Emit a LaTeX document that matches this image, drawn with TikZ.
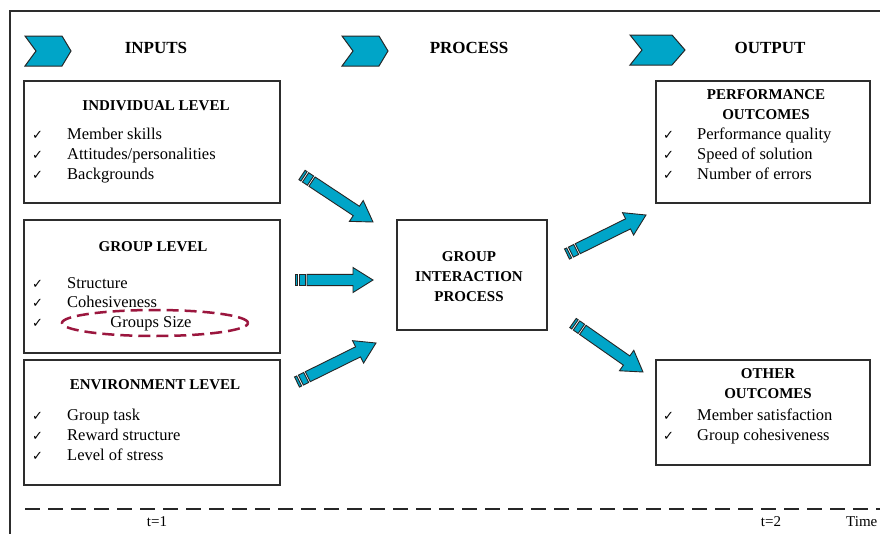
\documentclass[tikz,border=0pt]{standalone}
\usepackage{fontspec}
\setmainfont{Liberation Serif}
\newfontfamily\symf{DejaVu Sans}
\usetikzlibrary{calc,shapes.geometric}
\definecolor{arrowcyan}{RGB}{0,165,200}
\definecolor{ellred}{RGB}{155,22,62}
\definecolor{framegray}{RGB}{45,45,45}
\newcommand\blockarrow[2]{%
  \pgfpointdiff{\pgfpointanchor{#1}{center}}{\pgfpointanchor{#2}{center}}%
  \pgfgetlastxy\bdx\bdy
  \pgfmathsetmacro\bang{atan2(\bdy,\bdx)}%
  \pgfmathsetmacro\blen{veclen(\bdx,\bdy)}%
  \begin{scope}[shift={(#1)},rotate=\bang,x=1pt,y=1pt]
    \filldraw[arrowshape] (0,-5.6) rectangle (2.4,5.6);
    \filldraw[arrowshape] (4.3,-5.6) rectangle (10.2,5.6);
    \filldraw[arrowshape] (12,-5.6) -- ({\blen-20},-5.6) -- ({\blen-20},-12.5)
      -- (\blen,0) -- ({\blen-20},12.5) -- ({\blen-20},5.6) -- (12,5.6) -- cycle;
  \end{scope}}
\begin{document}
\begin{tikzpicture}[x=1pt,y=-1pt,
  arrowshape/.style={fill=arrowcyan,draw=black!85,line width=0.9pt,line join=miter},
  chev/.style={fill=arrowcyan,draw=black!85,line width=1pt},
  box/.style={draw=framegray,line width=1.3pt,inner sep=0pt,rectangle},
  ttl/.style={font=\fontsize{15}{20}\selectfont\bfseries,anchor=base,inner sep=0pt},
  itm/.style={font=\fontsize{16.5}{20}\selectfont,anchor=base west,inner sep=0pt},
  chk/.style={font=\symf\fontsize{13}{14}\selectfont,anchor=base west,inner sep=0pt},
  hdr/.style={font=\fontsize{17}{20}\selectfont\bfseries,anchor=base,inner sep=0pt},
  tim/.style={font=\fontsize{15}{18}\selectfont,anchor=base,inner sep=0pt},
]
\useasboundingbox (0,0) rectangle (880,533);
\clip (0,0) rectangle (880,533);
\fill[white] (0,0) rectangle (880,533);
% outer frame
\draw[framegray,line width=1.3pt] (10,540) -- (10,11) -- (890,11);

% chevrons and headers
\draw[chev] (25,36) -- (62,36) -- (71,51) -- (62,66) -- (25,66) -- (36,51) -- cycle;
\draw[chev] (342,36) -- (379,36) -- (388,51) -- (379,66) -- (342,66) -- (353,51) -- cycle;
\draw[chev] (630,35) -- (672,35) -- (685,50) -- (672,65) -- (630,65) -- (642,50) -- cycle;
\node[hdr] (hin) at (156,53) {INPUTS};
\node[hdr] (hpr) at (469,53) {PROCESS};
\node[hdr] (hout) at (770,53) {OUTPUT};

% boxes
\node[box,minimum width=256pt,minimum height=122pt] (ind) at (152,142) {};
\node[box,minimum width=256pt,minimum height=133pt] (grp) at (152,286.5) {};
\node[box,minimum width=256pt,minimum height=125pt] (env) at (152,422.5) {};
\node[box,minimum width=150pt,minimum height=110pt] (proc) at (472,275) {};
\node[box,minimum width=214pt,minimum height=122pt] (perf) at (763,142) {};
\node[box,minimum width=214pt,minimum height=105pt] (oth) at (763,412.5) {};

% individual level
\node[ttl] (indt) at (156,110) {INDIVIDUAL LEVEL};
\node[chk] (ic1) at (32,139) {✓}; \node[itm] (i1) at (67,139) {Member skills};
\node[chk] (ic2) at (32,159) {✓}; \node[itm] (i2) at (67,159) {Attitudes/personalities};
\node[chk] (ic3) at (32,179) {✓}; \node[itm] (i3) at (67,179) {Backgrounds};

% group level
\node[ttl] (grpt) at (153,251) {GROUP LEVEL};
\node[chk] (gc1) at (32,288) {✓}; \node[itm] (g1) at (67,288) {Structure};
\node[chk] (gc2) at (32,307) {✓}; \node[itm] (g2) at (67,307) {Cohesiveness};
\node[chk] (gc3) at (32,327) {✓}; \node[itm,anchor=base] (g3) at (151,327) {Groups Size};
\node[ellipse,draw=ellred,line width=2.5pt,dash pattern=on 12pt off 6pt,
      minimum width=186pt,minimum height=26pt,inner sep=0pt] (gsz) at (155,323) {};

% environment level
\node[ttl] (envt) at (155,389) {ENVIRONMENT LEVEL};
\node[chk] (ec1) at (32,420) {✓}; \node[itm] (e1) at (67,420) {Group task};
\node[chk] (ec2) at (32,440) {✓}; \node[itm] (e2) at (67,440) {Reward structure};
\node[chk] (ec3) at (32,460) {✓}; \node[itm] (e3) at (67,460) {Level of stress};

% process
\node[ttl] (p1) at (469,261) {GROUP};
\node[ttl] (p2) at (469,281) {INTERACTION};
\node[ttl] (p3) at (469,301) {PROCESS};

% performance outcomes
\node[ttl] (pt1) at (766,99) {PERFORMANCE};
\node[ttl] (pt2) at (766,119) {OUTCOMES};
\node[chk] (pc1) at (663,139) {✓}; \node[itm] (po1) at (697,139) {Performance quality};
\node[chk] (pc2) at (663,159) {✓}; \node[itm] (po2) at (697,159) {Speed of solution};
\node[chk] (pc3) at (663,179) {✓}; \node[itm] (po3) at (697,179) {Number of errors};

% other outcomes
\node[ttl] (ot1) at (768,378) {OTHER};
\node[ttl] (ot2) at (768,398) {OUTCOMES};
\node[chk] (oc1) at (663,420) {✓}; \node[itm] (oo1) at (697,420) {Member satisfaction};
\node[chk] (oc2) at (663,440) {✓}; \node[itm] (oo2) at (697,440) {Group cohesiveness};

% arrows
\coordinate (a1s) at (302,175); \coordinate (a1e) at (373,222);
\coordinate (a2s) at (295,280); \coordinate (a2e) at (373,280);
\coordinate (a3s) at (297,382); \coordinate (a3e) at (376,343);
\coordinate (a4s) at (567,254); \coordinate (a4e) at (646,215);
\coordinate (a5s) at (573,323); \coordinate (a5e) at (643,372);
\blockarrow{a1s}{a1e}
\blockarrow{a2s}{a2e}
\blockarrow{a3s}{a3e}
\blockarrow{a4s}{a4e}
\blockarrow{a5s}{a5e}

% timeline
\coordinate (tl0) at (25,509); \coordinate (tl1) at (890,509);
\draw[black!85,line width=2.8pt,dash pattern=on 15pt off 8pt] (tl0) -- (tl1);
\node[tim] (t1) at (157,526) {t=1};
\node[tim] (t2) at (771,526) {t=2};
\node[tim,anchor=base west] (tt) at (846,526) {Time};
\end{tikzpicture}
\end{document}
